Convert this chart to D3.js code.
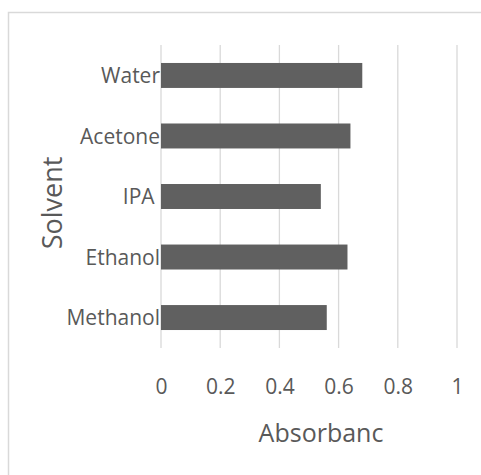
<!DOCTYPE html>
<html>
<head>
<meta charset="utf-8">
<script src="https://cdn.jsdelivr.net/npm/d3@7"></script>
<style>
  html, body { margin: 0; padding: 0; background: #fff; }
  svg { display: block; }
  text { font-family: "Open Sans", "Segoe UI", sans-serif; fill: #595959; white-space: pre; }
</style>
</head>
<body>
<svg id="chart" width="481" height="475"></svg>
<script>
// Solvents, listed bottom to top as on the category axis
const categories = ["Methanol", "Ethanol", "IPA ", "Acetone", "Water"];
const absorbance = [0.56, 0.63, 0.54, 0.64, 0.68];
const xTicks = [0, 0.2, 0.4, 0.6, 0.8, 1];
const xTickLabels = ["0", "0.2", "0.4", "0.6", "0.8", "1"];
const xTitle = "Absorbanc";
const yTitle = "Solvent";

const rows = categories.map((c, i) => ({ name: c, value: absorbance[i] }));

const svg = d3.select("#chart");

// Chart area border
svg.append("rect")
  .attr("x", 8.5).attr("y", 12.5)
  .attr("width", 490).attr("height", 490)
  .attr("fill", "none")
  .attr("stroke", "#d9d9d9")
  .attr("stroke-width", 1.5);

const plot = { left: 161, right: 457, top: 45, bottom: 348 };

const x = d3.scaleLinear().domain([0, 1]).range([plot.left, plot.right]);
const y = d3.scaleBand()
  .domain(categories.slice().reverse())
  .range([plot.top, plot.bottom])
  .paddingInner(0.5875)
  .paddingOuter(0.297);

// Vertical gridlines
svg.append("g")
  .selectAll("line")
  .data(xTicks)
  .join("line")
  .attr("x1", d => x(d)).attr("x2", d => x(d))
  .attr("y1", plot.top).attr("y2", plot.bottom)
  .attr("stroke", "#d9d9d9")
  .attr("stroke-width", 1.3);

// Bars
svg.append("g")
  .selectAll("rect")
  .data(rows)
  .join("rect")
  .attr("x", x(0))
  .attr("y", d => y(d.name))
  .attr("width", d => x(d.value) - x(0))
  .attr("height", y.bandwidth())
  .attr("fill", "#606060");

// Value axis labels
const xAxis = d3.axisBottom(x)
  .tickValues(xTicks)
  .tickFormat((d, i) => xTickLabels[i])
  .tickSize(0)
  .tickPadding(0);
const gx = svg.append("g")
  .attr("transform", `translate(0, 378)`)
  .call(xAxis);
gx.select(".domain").remove();
gx.selectAll("text")
  .attr("dy", null)
  .attr("y", 15.5)
  .style("font-size", "21px")
  .attr("fill", "#595959");

// Category axis labels
const yAxis = d3.axisLeft(y).tickSize(0).tickPadding(0);
const gy = svg.append("g")
  .attr("transform", `translate(160, 0)`)
  .call(yAxis);
gy.select(".domain").remove();
gy.selectAll("text")
  .attr("x", 0)
  .attr("dy", "0.36em")
  .style("font-size", "21px")
  .attr("fill", "#595959");

// Axis titles
svg.append("text")
  .attr("x", 321)
  .attr("y", 442)
  .attr("text-anchor", "middle")
  .style("font-size", "25px")
  .text(xTitle);

svg.append("text")
  .attr("transform", "translate(62, 203) rotate(-90)")
  .attr("text-anchor", "middle")
  .style("font-size", "27px")
  .text(yTitle);
</script>
</body>
</html>
